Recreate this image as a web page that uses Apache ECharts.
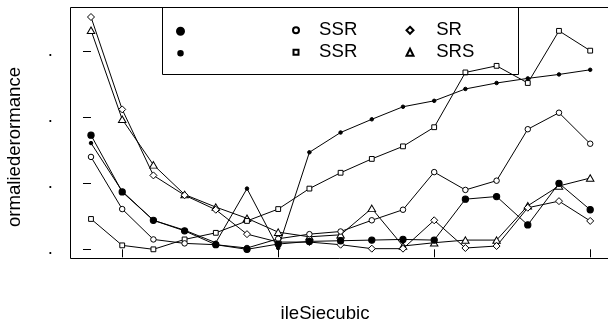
<!DOCTYPE html>
<html>
<head>
<meta charset="utf-8">
<script src="https://cdn.jsdelivr.net/npm/echarts@6/dist/echarts.min.js"></script>
<style>
  html, body { margin: 0; padding: 0; background: #fff; }
  #chart { width: 608px; height: 325px; }
</style>
</head>
<body>
<div id="chart"></div>
<script>
// column positions (17 points) and axis ticks
const xIdx = [0, 1, 2, 3, 4, 5, 6, 7, 8, 9, 10, 11, 12, 13, 14, 15, 16];
const xTicks = [1, 6, 11, 16];
const yTicks = [0, 1, 2, 3];
const yTickLabel = '.';

// series values
const bigDot = [1.73, 0.87, 0.44, 0.28, 0.07, 0.00, 0.08, 0.12, 0.13, 0.14, 0.15, 0.14, 0.76, 0.80, 0.37, 1.00, 0.60];
const smallDot = [1.61, 0.88, 0.44, 0.29, 0.10, 0.92, 0.02, 1.47, 1.77, 1.97, 2.16, 2.25, 2.43, 2.52, 2.59, 2.65, 2.72];
const ssrCircle = [1.40, 0.61, 0.15, 0.09, 0.07, 0.02, 0.16, 0.23, 0.27, 0.44, 0.60, 1.17, 0.90, 1.04, 1.82, 2.07, 1.60];
const ssrSquare = [0.46, 0.06, 0.00, 0.15, 0.25, 0.43, 0.61, 0.92, 1.16, 1.37, 1.56, 1.85, 2.68, 2.78, 2.52, 3.31, 3.01];
const srDiamond = [3.52, 2.12, 1.12, 0.82, 0.60, 0.23, 0.11, 0.11, 0.07, 0.01, 0.01, 0.44, 0.02, 0.05, 0.63, 0.73, 0.43];
const srsTriangle = [3.32, 1.97, 1.28, 0.83, 0.64, 0.47, 0.26, 0.19, 0.22, 0.62, 0.05, 0.10, 0.14, 0.14, 0.66, 0.96, 1.08];

const legendLabels = {s1: '', s2: '', s3: 'SSR', s4: 'SSR', s5: 'SR', s6: 'SRS'};

const FONT = 'Liberation Sans, Arial, Helvetica, sans-serif';
const chart = echarts.init(document.getElementById('chart'), null, {renderer: 'canvas'});

function pairs(vals) {
    return xIdx.map((x, i) => [x, vals[i]]);
}

function mkSeries(name, vals, symbol, size, fill) {
    return {
        name: name,
        type: 'line',
        data: pairs(vals),
        symbol: symbol,
        symbolSize: size,
        showAllSymbol: true,
        lineStyle: {color: '#000', width: 1},
        itemStyle: {color: fill, borderColor: '#000', borderWidth: 1},
        emphasis: {disabled: true},
        silent: true
    };
}

// one legend block per item: icon centred on (cx, cy), label starting at textX
function legendItem(name, icon, cx, cy, h, textX) {
    const lbl = legendLabels[name];
    const pad = lbl ? textX - (cx + h / 2 + 5) : 0;
    return {
        data: [{name: name, icon: icon}],
        left: cx - h / 2,
        top: lbl ? cy - 10 : cy - h / 2,
        padding: 0,
        orient: 'vertical',
        itemWidth: h,
        itemHeight: h,
        selectedMode: false,
        formatter: () => lbl,
        textStyle: {fontFamily: FONT, fontSize: 18.6, color: '#000', lineHeight: 20, padding: [0, 0, 0, pad]}
    };
}

const option = {
    animation: false,
    backgroundColor: '#fff',
    grid: {
        left: 70.5, top: 7.5, width: 540, height: 251,
        outerBoundsMode: 'none',
        containLabel: false,
        show: true, borderColor: '#000', borderWidth: 1, backgroundColor: 'transparent'
    },
    xAxis: {
        type: 'value',
        min: -0.657, max: 16.651,
        name: 'ileSiecubic',
        nameLocation: 'middle',
        nameGap: 46,
        nameTextStyle: {fontFamily: FONT, fontSize: 18.6, color: '#000', padding: [0, 31, 0, 0]},
        axisLine: {show: false},
        splitLine: {show: false},
        axisTick: {show: true, length: 8, lineStyle: {color: '#000'}, customValues: xTicks},
        axisLabel: {show: false}
    },
    yAxis: {
        type: 'value',
        min: -0.139, max: 3.664,
        name: 'ormaliederormance',
        nameLocation: 'middle',
        nameGap: 46,
        nameTextStyle: {fontFamily: FONT, fontSize: 18.6, color: '#000', padding: [0, 28, 0, 0]},
        axisLine: {show: false},
        splitLine: {show: false},
        axisTick: {show: true, length: 8, lineStyle: {color: '#000'}, customValues: yTicks},
        axisLabel: {
            show: true, customValues: yTicks, margin: 17.7,
            formatter: () => yTickLabel,
            fontFamily: FONT, fontSize: 18.6, color: '#000'
        }
    },
    legend: [
        legendItem('s1', 'circle', 179.5, 30.3, 7, 0),
        legendItem('s2', 'circle', 179.5, 52.3, 4.5, 0),
        legendItem('s3', 'circle', 295, 30.3, 6, 318.1),
        legendItem('s4', 'rect', 295, 52.3, 5, 318.1),
        legendItem('s5', 'diamond', 409, 30.3, 7, 435.2),
        legendItem('s6', 'triangle', 409, 52.3, 7, 435.2)
    ],
    graphic: [{
        type: 'rect',
        shape: {x: 162.5, y: 7.5, width: 356, height: 67},
        style: {fill: 'transparent', stroke: '#000', lineWidth: 1},
        silent: true,
        z: 50
    }],
    series: [
        mkSeries('s6', srsTriangle, 'triangle', [7.5, 6.5], '#fff'),
        mkSeries('s5', srDiamond, 'diamond', 7, '#fff'),
        mkSeries('s4', ssrSquare, 'rect', 4.8, '#fff'),
        mkSeries('s3', ssrCircle, 'circle', 5.5, '#fff'),
        mkSeries('s2', smallDot, 'circle', 3.5, '#000'),
        mkSeries('s1', bigDot, 'circle', 6.3, '#000')
    ]
};

chart.setOption(option);
</script>
</body>
</html>
